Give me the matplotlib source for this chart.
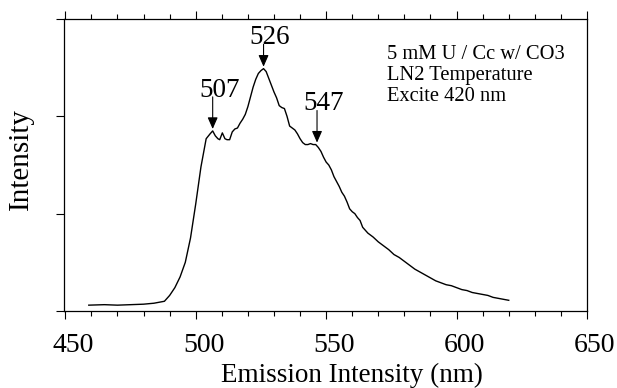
import matplotlib
matplotlib.use("Agg")
import matplotlib.pyplot as plt
from matplotlib.ticker import MultipleLocator, NullFormatter
from matplotlib.transforms import ScaledTranslation

wavelength = [459, 465, 470, 475, 480, 484, 486, 488, 490, 492, 494, 496, 498, 500,
              502, 504, 505.5, 506.5, 507.5, 508.5, 509.2, 510.2, 511.2, 512, 513, 514,
              515, 516, 517, 518, 519, 520, 521, 522, 523, 524, 525, 526, 527, 528, 529,
              530, 531, 532, 533, 534, 535, 536, 537, 538, 539, 540, 541, 542, 543, 544,
              545, 546, 547, 548, 549, 550, 551, 552, 553, 554, 555, 556, 557, 558, 559,
              560, 561, 562, 563, 564, 566, 568, 570, 572, 574, 576, 578, 580, 582, 584,
              586, 588, 590, 592, 594, 596, 598, 600, 602, 604, 606, 608, 610, 612, 614,
              616, 618, 620]
intensity = [0.06, 0.065, 0.06, 0.065, 0.07, 0.08, 0.09, 0.10, 0.16, 0.24, 0.35, 0.50,
             0.75, 1.10, 1.48, 1.77, 1.82, 1.85, 1.80, 1.77, 1.76, 1.83, 1.77, 1.76, 1.76,
             1.84, 1.87, 1.88, 1.93, 1.97, 2.02, 2.10, 2.20, 2.30, 2.38, 2.44, 2.47, 2.49,
             2.46, 2.39, 2.32, 2.25, 2.19, 2.11, 2.09, 2.08, 2.00, 1.90, 1.88, 1.86, 1.82,
             1.77, 1.73, 1.71, 1.71, 1.72, 1.71, 1.71, 1.68, 1.64, 1.58, 1.53, 1.50, 1.45,
             1.38, 1.33, 1.28, 1.22, 1.18, 1.12, 1.05, 1.02, 1.00, 0.96, 0.93, 0.86, 0.80,
             0.76, 0.71, 0.67, 0.63, 0.58, 0.55, 0.51, 0.47, 0.43, 0.40, 0.37, 0.34, 0.31,
             0.29, 0.27, 0.26, 0.24, 0.22, 0.21, 0.19, 0.18, 0.17, 0.16, 0.14, 0.13, 0.12,
             0.11]

peak_labels = ["507", "526", "547"]
peak_x = [506.5, 526, 546.5]
peak_y = [1.87, 2.51, 1.73]
label_y = [2.27, 2.81, 2.13]
info_lines = ["5 mM U / Cc w/ CO3", "LN2 Temperature", "Excite 420 nm"]

plt.rcParams['font.family'] = ['Liberation Serif', 'DejaVu Serif']

fig = plt.figure(figsize=(6.17, 3.88), dpi=100)
ax = fig.add_axes([64/617, 1 - 311/388, (587-64)/617, (311-19)/388])
ax.plot(wavelength, intensity, color='black', lw=1.0)

ax.set_xlim(449.5, 650)
ax.set_ylim(0, 3)
ax.xaxis.set_major_locator(MultipleLocator(50))
ax.xaxis.set_minor_locator(MultipleLocator(10))
ax.yaxis.set_major_locator(MultipleLocator(1))
ax.yaxis.set_major_formatter(NullFormatter())
ax.tick_params(axis='x', which='both', direction='out', top=True, bottom=True,
               labelsize=20, pad=10)
ax.tick_params(axis='x', which='major', length=6, width=0.8)
ax.tick_params(axis='x', which='minor', length=3.5, width=0.8)
ax.tick_params(axis='y', which='major', direction='out', left=True, right=False,
               length=6, width=0.8)
for s in ax.spines.values():
    s.set_linewidth(0.9)

offset = ScaledTranslation(8/100, 0, fig.dpi_scale_trans)
for lab in ax.get_xticklabels():
    lab.set_transform(lab.get_transform() + offset)

ax.set_xlabel("Emission Intensity (nm)", fontsize=19.5)
ax.xaxis.set_label_coords(0.551, -0.178)
ax.xaxis.label.set_va('top')
ax.set_ylabel("Intensity", fontsize=21)
ax.yaxis.set_label_coords(-0.057, 0.52)

for lab, px, py, ly in zip(peak_labels, peak_x, peak_y, label_y):
    ax.annotate("", xy=(px, py), xytext=(px, ly - 0.07),
                arrowprops=dict(arrowstyle='-|>,head_length=0.5,head_width=0.22',
                                color='black', lw=0.8, shrinkA=0, shrinkB=0,
                                mutation_scale=14))
    ax.text(px + 2.5, ly, lab, fontsize=19.5, ha='center', va='center')

ax.text(0.617, 0.91, "\n".join(info_lines), transform=ax.transAxes,
        fontsize=14.8, ha='left', va='top', linespacing=1.15)

fig.savefig("out.png", dpi=100)
